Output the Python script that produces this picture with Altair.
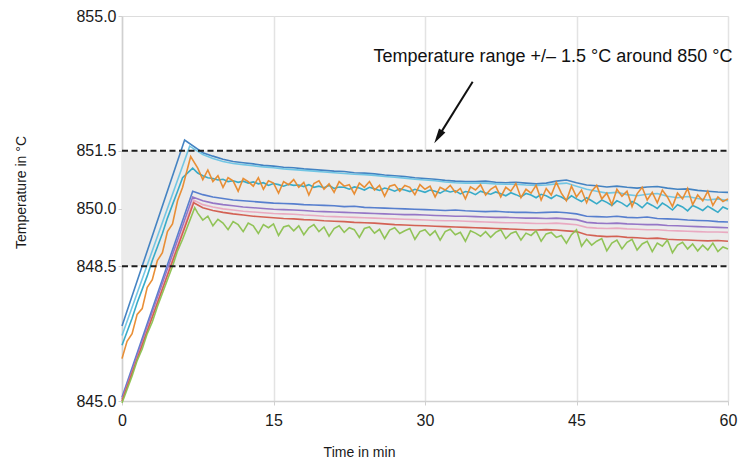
import altair as alt
import pandas as pd

FONT = "Liberation Sans, Arial, sans-serif"

# ---- time grids -------------------------------------------------------
T_MIN = list(range(8, 61))                      # 1-min grid (smooth series)
T_HALF = [7.5 + 0.5 * i for i in range(106)]    # 0.5-min grid (noisy series)
T_RAMP = [0.5 * i for i in range(13)]           # ramp times (noisy series)

# ---- smooth series: start value, peak (t, value), plateau on T_MIN ------
DB_START, DB_PEAK_T, DB_PEAK = 846.95, 6.2, 851.78
DB = [851.45, 851.36, 851.28, 851.22, 851.19, 851.16, 851.12, 851.10, 851.07, 851.06,
      851.03, 851.01, 850.99, 850.97, 850.96, 850.93, 850.92, 850.90, 850.87, 850.85,
      850.83, 850.80, 850.78, 850.76, 850.73, 850.71, 850.70, 850.70, 850.71, 850.68,
      850.67, 850.68, 850.66, 850.64, 850.66, 850.71, 850.74, 850.67, 850.61, 850.59,
      850.56, 850.58, 850.55, 850.53, 850.56, 850.57, 850.53, 850.50, 850.51, 850.47,
      850.45, 850.43, 850.42]

LC_START, LC_PEAK_T, LC_PEAK = 846.70, 6.7, 851.62
LC = [851.40, 851.30, 851.22, 851.17, 851.14, 851.11, 851.08, 851.06, 851.03, 851.01,
      850.99, 850.97, 850.95, 850.93, 850.91, 850.89, 850.88, 850.86, 850.83, 850.81,
      850.79, 850.76, 850.74, 850.72, 850.69, 850.67, 850.66, 850.66, 850.66, 850.64,
      850.63, 850.63, 850.61, 850.60, 850.61, 850.64, 850.66, 850.58, 850.50, 850.45,
      850.40, 850.42, 850.36, 850.33, 850.37, 850.39, 850.32, 850.28, 850.31, 850.26,
      850.22, 850.25, 850.20]

BM_START, BM_PEAK_T, BM_PEAK = 845.10, 7.0, 850.45
BM = [850.36, 850.30, 850.26, 850.22, 850.20, 850.18, 850.16, 850.14, 850.13, 850.12,
      850.10, 850.09, 850.08, 850.07, 850.05, 850.06, 850.03, 850.02, 850.01, 850.00,
      849.99, 849.98, 849.97, 849.96, 849.95, 849.96, 849.94, 849.93, 849.92, 849.93,
      849.91, 849.90, 849.90, 849.89, 849.90, 849.91, 849.89, 849.86, 849.80, 849.79,
      849.78, 849.80, 849.77, 849.76, 849.78, 849.74, 849.73, 849.72, 849.70, 849.69,
      849.68, 849.66, 849.65]

PU_START, PU_PEAK_T, PU_PEAK = 845.05, 7.0, 850.30
PU = [850.20, 850.14, 850.10, 850.07, 850.04, 850.02, 850.00, 849.98, 849.97, 849.96,
      849.95, 849.93, 849.92, 849.91, 849.90, 849.89, 849.88, 849.87, 849.86, 849.85,
      849.84, 849.84, 849.83, 849.82, 849.81, 849.80, 849.80, 849.79, 849.78, 849.77,
      849.77, 849.76, 849.75, 849.75, 849.74, 849.75, 849.73, 849.71, 849.64, 849.62,
      849.61, 849.62, 849.60, 849.59, 849.58, 849.58, 849.56, 849.55, 849.54, 849.53,
      849.52, 849.51, 849.50]

PK_START, PK_PEAK_T, PK_PEAK = 845.00, 7.1, 850.22
PK = [850.10, 850.04, 849.99, 849.96, 849.93, 849.91, 849.89, 849.87, 849.86, 849.85,
      849.83, 849.82, 849.80, 849.79, 849.78, 849.77, 849.76, 849.75, 849.74, 849.73,
      849.72, 849.71, 849.70, 849.69, 849.68, 849.68, 849.67, 849.66, 849.65, 849.64,
      849.63, 849.63, 849.62, 849.61, 849.61, 849.62, 849.60, 849.58, 849.51, 849.49,
      849.48, 849.49, 849.47, 849.46, 849.45, 849.45, 849.43, 849.42, 849.41, 849.40,
      849.39, 849.39, 849.38]

RD_START, RD_PEAK_T, RD_PEAK = 845.00, 7.1, 850.15
RD = [850.02, 849.95, 849.90, 849.86, 849.83, 849.80, 849.78, 849.76, 849.74, 849.73,
      849.71, 849.70, 849.68, 849.67, 849.66, 849.64, 849.63, 849.62, 849.60, 849.58,
      849.57, 849.56, 849.55, 849.54, 849.53, 849.52, 849.51, 849.50, 849.49, 849.48,
      849.47, 849.46, 849.45, 849.44, 849.45, 849.44, 849.42, 849.40, 849.32, 849.29,
      849.27, 849.28, 849.25, 849.24, 849.22, 849.23, 849.20, 849.19, 849.18, 849.17,
      849.16, 849.17, 849.15]

# ---- noisy series: ramp on T_RAMP, peak (t, value), plateau on T_HALF ---
OR_RAMP = [846.10, 846.55, 846.75, 847.25, 847.40, 847.95, 848.15, 848.65, 848.85,
           849.40, 849.60, 850.20, 850.55]
OR_PEAK_T, OR_PEAK = 6.8, 851.35
OR = [851.05, 850.75, 851.00, 850.70, 850.85, 850.55, 850.80, 850.72, 850.45, 850.78,
      850.70, 850.58, 850.80, 850.50, 850.72, 850.66, 850.40, 850.70, 850.62, 850.75,
      850.55, 850.68, 850.35, 850.65, 850.72, 850.50, 850.64, 850.42, 850.70, 850.58,
      850.62, 850.38, 850.66, 850.55, 850.70, 850.48, 850.60, 850.32, 850.58, 850.62,
      850.45, 850.60, 850.55, 850.36, 850.62, 850.50, 850.58, 850.30, 850.55, 850.48,
      850.60, 850.42, 850.52, 850.25, 850.56, 850.48, 850.62, 850.35, 850.50, 850.58,
      850.30, 850.55, 850.45, 850.65, 850.28, 850.50, 850.40, 850.60, 850.22, 850.52,
      850.35, 850.68, 850.40, 850.20, 850.58, 850.30, 850.48, 850.15, 850.45, 850.60,
      850.25, 850.40, 850.10, 850.50, 850.32, 850.45, 850.05, 850.38, 850.55, 850.22,
      850.42, 850.15, 850.48, 850.30, 850.05, 850.40, 850.25, 850.52, 850.10, 850.35,
      850.20, 850.45, 850.08, 850.30, 850.18, 850.25]

TE_RAMP = [846.45, 846.80, 847.15, 847.55, 847.90, 848.25, 848.65, 849.00, 849.35,
           849.75, 850.10, 850.45, 850.80]
TE_PEAK_T, TE_PEAK = 7.0, 851.05
TE = [850.92, 850.85, 850.80, 850.78, 850.74, 850.76, 850.70, 850.72, 850.68, 850.71,
      850.66, 850.69, 850.64, 850.67, 850.60, 850.65, 850.62, 850.58, 850.63, 850.60,
      850.61, 850.57, 850.62, 850.55, 850.58, 850.54, 850.60, 850.52, 850.56, 850.55,
      850.50, 850.56, 850.53, 850.48, 850.55, 850.51, 850.47, 850.53, 850.50, 850.45,
      850.51, 850.48, 850.44, 850.50, 850.46, 850.42, 850.48, 850.45, 850.40, 850.47,
      850.43, 850.46, 850.38, 850.44, 850.42, 850.36, 850.45, 850.40, 850.37, 850.43,
      850.38, 850.33, 850.41, 850.36, 850.30, 850.39, 850.35, 850.28, 850.37, 850.33,
      850.26, 850.35, 850.30, 850.22, 850.33, 850.25, 850.18, 850.28, 850.20, 850.12,
      850.22, 850.16, 850.08, 850.20, 850.14, 850.05, 850.18, 850.12, 850.02, 850.15,
      850.08, 850.00, 850.14, 850.06, 849.96, 850.10, 850.04, 849.94, 850.08, 850.02,
      849.95, 850.06, 849.98, 849.90, 850.04, 849.98]

GR_RAMP = [844.95, 845.30, 845.65, 846.05, 846.35, 846.75, 847.05, 847.45, 847.80,
           848.15, 848.50, 848.90, 849.20]
GR_PEAK_T, GR_PEAK = 7.2, 850.02
GR = [849.88, 849.70, 849.80, 849.55, 849.72, 849.62, 849.45, 849.66, 849.58, 849.40,
      849.62, 849.55, 849.35, 849.58, 849.50, 849.60, 849.30, 849.52, 849.56, 849.42,
      849.55, 849.32, 849.50, 849.58, 849.40, 849.52, 849.28, 849.48, 849.55, 849.38,
      849.50, 849.45, 849.25, 849.48, 849.52, 849.36, 849.46, 849.22, 849.44, 849.50,
      849.35, 849.42, 849.48, 849.20, 849.40, 849.45, 849.30, 849.42, 849.18, 849.40,
      849.46, 849.32, 849.38, 849.15, 849.42, 849.36, 849.28, 849.40, 849.25, 849.38,
      849.45, 849.22, 849.35, 849.40, 849.18, 849.36, 849.30, 849.42, 849.15, 849.34,
      849.38, 849.25, 849.30, 849.10, 849.32, 849.45, 849.02, 849.20, 849.05, 849.15,
      849.22, 848.90, 849.10, 849.18, 848.95, 849.12, 849.20, 848.92, 849.08, 849.15,
      848.88, 849.10, 849.02, 849.18, 848.85, 849.05, 849.12, 848.95, 849.08, 848.90,
      849.05, 848.92, 849.10, 848.88, 849.00, 848.95]

# ---- reference band and annotation ------------------------------------
BAND_LOW, BAND_HIGH = 848.5, 851.5
Y_TICKS = [845.0, 848.5, 850.0, 851.5, 855.0]
X_TICKS = [0, 15, 30, 45, 60]
ANNOT_TEXT = "Temperature range +/\u2013 1.5 \u00b0C around 850 \u00b0C"
ANNOT_T, ANNOT_V = 42.67, 853.81
ARROW_FROM = (34.72, 853.29)
ARROW_HEAD = (31.31, 851.86)


def smooth(start, pt, pv, vals):
    return pd.DataFrame({"t": [0.0, pt] + T_MIN, "v": [start, pv] + vals})


def noisy(ramp, pt, pv, vals):
    return pd.DataFrame({"t": T_RAMP + [pt] + T_HALF, "v": ramp + [pv] + vals})


series = [
    (smooth(DB_START, DB_PEAK_T, DB_PEAK, DB), "#3b7dc0"),
    (smooth(LC_START, LC_PEAK_T, LC_PEAK, LC), "#6cc4e4"),
    (noisy(TE_RAMP, TE_PEAK_T, TE_PEAK, TE), "#2ea8c6"),
    (noisy(OR_RAMP, OR_PEAK_T, OR_PEAK, OR), "#e8892b"),
    (smooth(BM_START, BM_PEAK_T, BM_PEAK, BM), "#4f79cc"),
    (smooth(PU_START, PU_PEAK_T, PU_PEAK, PU), "#9070c4"),
    (smooth(PK_START, PK_PEAK_T, PK_PEAK, PK), "#e9a7bf"),
    (smooth(RD_START, RD_PEAK_T, RD_PEAK, RD), "#d25a4c"),
    (noisy(GR_RAMP, GR_PEAK_T, GR_PEAK, GR), "#8cc14f"),
]

xs = alt.Scale(domain=[0, 60], nice=False, zero=False)
ys = alt.Scale(domain=[845, 855], nice=False, zero=False)

x_axis = alt.Axis(
    values=X_TICKS, title="Time in min", grid=True, gridColor="#e3e3e3", gridWidth=1.5,
    domainColor="#d0d0d0", domainWidth=1.5, tickColor="#d0d0d0", tickSize=4,
    labelFontSize=16, labelPadding=7, labelFlush=False, labelColor="#1a1a1a",
    labelFont=FONT, titleFont=FONT, titleFontSize=14, titleFontWeight="normal",
    titleColor="#1a1a1a", titleX=237, titleY=55, titleBaseline="alphabetic",
    titleAlign="center",
)
y_axis = alt.Axis(
    values=Y_TICKS, format=".1f", title="Temperature in \u00b0C", grid=False,
    domainColor="#d0d0d0", domainWidth=1.5, tickColor="#d0d0d0", tickSize=4,
    labelFontSize=16, labelPadding=2, labelColor="#1a1a1a", labelFont=FONT,
    titleFont=FONT, titleFontSize=14, titleFontWeight="normal", titleColor="#1a1a1a",
    titleX=-97, titleY=176, titleAngle=270, titleBaseline="alphabetic",
    titleAlign="center",
)


def X(field):
    return alt.X(field, type="quantitative", scale=xs, axis=x_axis)


def Y(field):
    return alt.Y(field, type="quantitative", scale=ys, axis=y_axis)


band_df = pd.DataFrame({"t": [0], "t2": [60], "v": [BAND_LOW], "v2": [BAND_HIGH]})
band = alt.Chart(band_df).mark_rect(color="#ebebeb").encode(
    x=X("t"), x2="t2", y=Y("v"), y2="v2"
)

dash_df = pd.DataFrame({"t": [0, 0], "t2": [60, 60], "v": [BAND_LOW, BAND_HIGH]})
dashes = alt.Chart(dash_df).mark_rule(
    color="#1e1e1e", strokeWidth=2.2, strokeDash=[6, 3.5]
).encode(x=X("t"), x2="t2", y=Y("v"))

line_layers = [
    alt.Chart(df).mark_line(color=c, strokeWidth=1.6, opacity=0.95).encode(
        x=X("t"), y=Y("v")
    )
    for df, c in series
]

annot = alt.Chart(pd.DataFrame({"t": [ANNOT_T], "v": [ANNOT_V], "s": [ANNOT_TEXT]})).mark_text(
    font=FONT, fontSize=18, align="center", baseline="alphabetic", color="#111111"
).encode(x=X("t"), y=Y("v"), text="s:N")

arrow_df = pd.DataFrame({"t": [ARROW_FROM[0]], "v": [ARROW_FROM[1]],
                         "t2": [ARROW_HEAD[0]], "v2": [ARROW_HEAD[1]]})
arrow_line = alt.Chart(arrow_df).mark_rule(color="#111111", strokeWidth=2).encode(
    x=X("t"), y=Y("v"), x2="t2", y2="v2"
)
head_df = pd.DataFrame({"t": [ARROW_HEAD[0]], "v": [ARROW_HEAD[1]]})
arrow_head = alt.Chart(head_df).mark_point(
    shape="M0,-1L0.5,1L-0.5,1Z", size=225, angle=212, filled=True,
    color="#111111", opacity=1
).encode(x=X("t"), y=Y("v"))

chart = alt.layer(band, *line_layers, dashes, annot, arrow_line, arrow_head).properties(
    width=606, height=385,
    autosize=alt.AutoSizeParams(type="none"),
    padding={"left": 114, "top": 8, "right": 14, "bottom": 57},
).configure_view(stroke=None).configure(font=FONT)

chart.save("out.html", embed_options={"renderer": "svg", "actions": False})
